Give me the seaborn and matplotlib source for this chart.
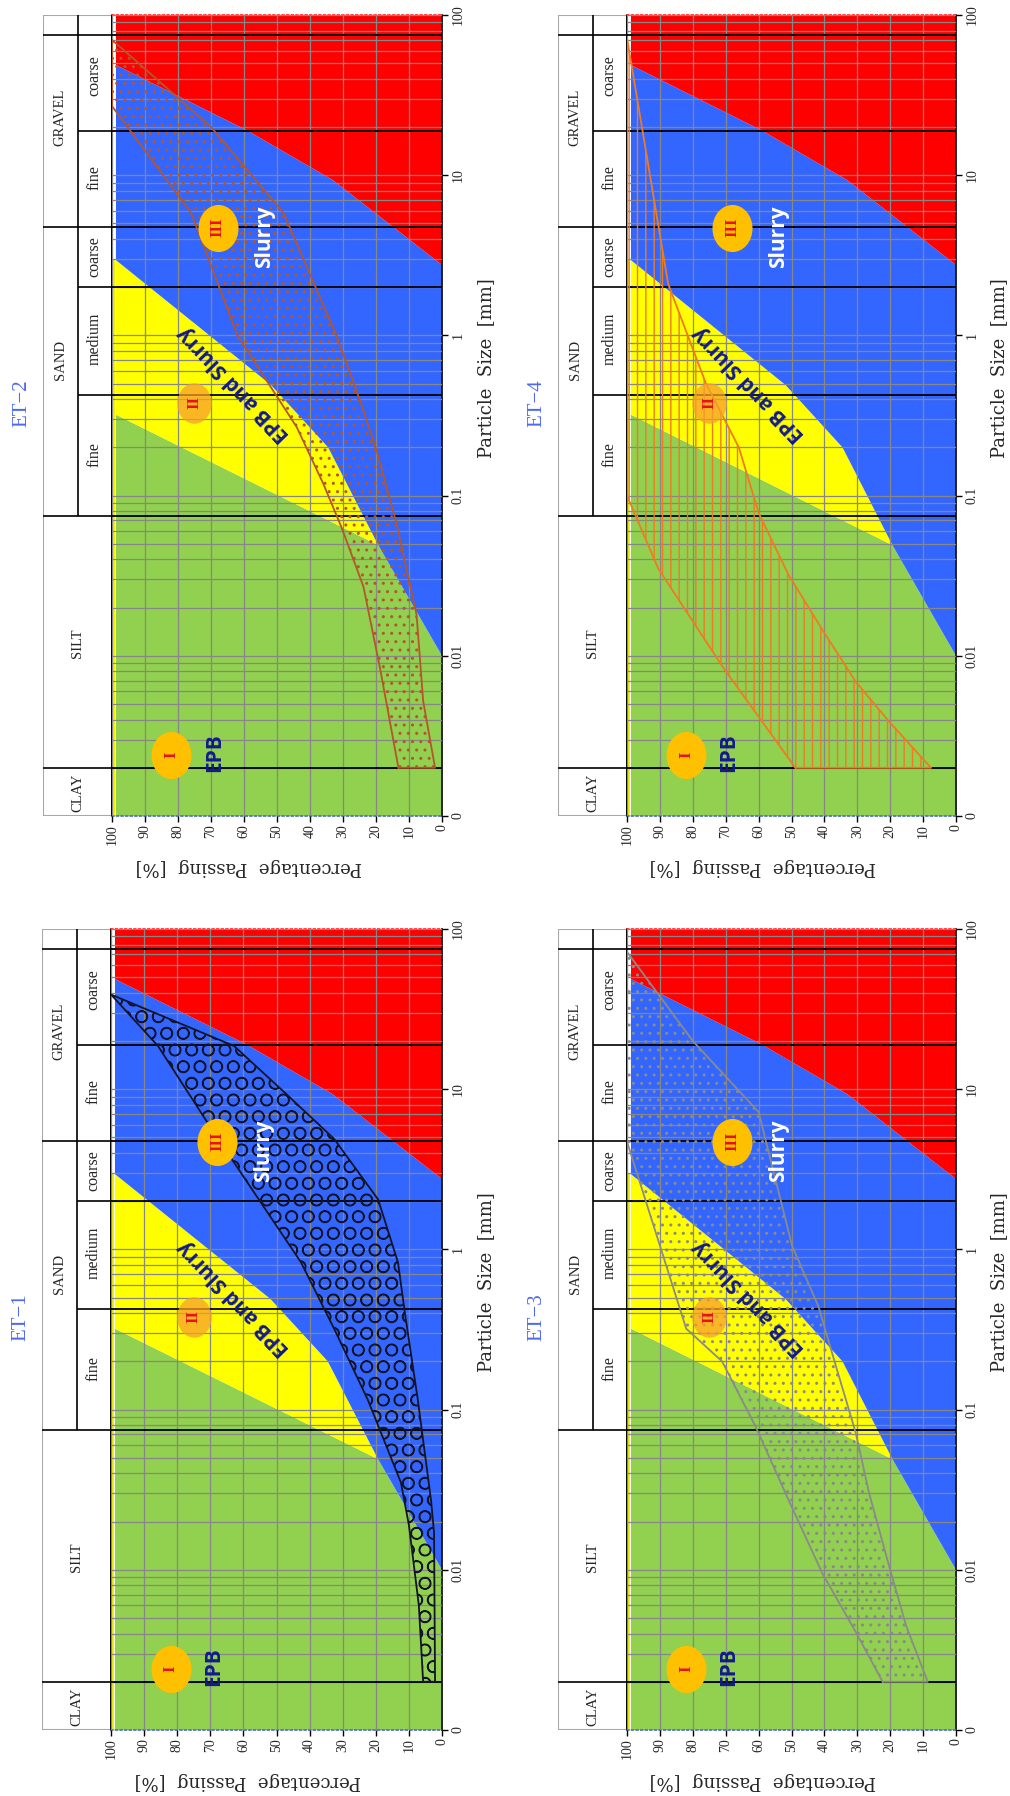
import matplotlib
matplotlib.use('Agg')
import matplotlib.pyplot as plt
import seaborn as sns
from matplotlib.path import Path
from matplotlib.transforms import Affine2D
from matplotlib.ticker import FixedLocator, NullFormatter, LogLocator

sns.set_theme(style='white')
plt.rcParams['font.family'] = ['Liberation Serif', 'DejaVu Serif']
plt.rcParams['hatch.linewidth'] = 1.0

# zone boundaries: percent passing vs particle size [mm]
green_blue_p = [0, 19.3]
green_blue_s = [0.01, 0.049]
green_yellow_p = [19.3, 98.8]
green_yellow_s = [0.049, 0.32]
yellow_blue_p = [19.3, 34.5, 51.8, 98.8]
yellow_blue_s = [0.049, 0.2, 0.49, 2.95]
blue_red_p = [0, 33, 59, 98.8]
blue_red_s = [2.75, 9.3, 19, 48.7]

# soil classification (sizes in mm)
size_min, size_max = 0.001, 100
main_edges = [0.002, 0.075, 4.75, 75]
sub_edges = [0.425, 2.0, 19]
main_names = ['CLAY', 'SILT', 'SAND', 'GRAVEL']
main_pos = [0.0014, 0.012, 0.7, 23]
sub_names = ['fine', 'medium', 'coarse', 'fine', 'coarse']
sub_pos = [0.18, 0.95, 3.1, 9.6, 42]

# zone markers
zone_names = ['I', 'II', 'III']
zone_p = [82, 75, 68]
zone_s = [0.0024, 0.38, 4.7]

# tick labels
size_ticks = [0.001, 0.01, 0.1, 1, 10, 100]
size_labels = ['0', '0.01', '0.1', '1', '10', '100']
pass_ticks = [0, 10, 20, 30, 40, 50, 60, 70, 80, 90, 100]

# grading envelopes of each tunnel section
et1_up_p = [100, 85.8, 69, 42.6, 32.6, 22.4, 12.4, 10, 7, 5.7]
et1_up_s = [39, 18.6, 5.4, 0.83, 0.32, 0.115, 0.035, 0.019, 0.006, 0.002]
et1_lo_p = [100, 62.8, 47.7, 32.6, 19.3, 13.3, 11.2, 7.3, 3.3, 2.4, 2.1]
et1_lo_s = [39, 18.6, 9.6, 4.9, 2.05, 0.83, 0.4, 0.115, 0.027, 0.017, 0.002]

et2_up_p = [100, 76, 62, 44, 36, 30.4, 23.8, 18.8, 13.2]
et2_up_s = [27, 5.8, 1.0, 0.267, 0.119, 0.063, 0.027, 0.0084, 0.002]
et2_lo_p = [100, 70, 48, 32, 24.8, 19.8, 13.7, 7.7, 5.7, 2.1]
et2_lo_s = [70, 20, 5.8, 1.0, 0.39, 0.19, 0.066, 0.018, 0.0052, 0.002]

et3_up_p = [100, 82, 71.1, 61, 50.8, 40.6, 30.5, 22.3]
et3_up_s = [4.7, 0.32, 0.2, 0.079, 0.027, 0.0095, 0.0041, 0.002]
et3_lo_p = [100, 80, 60, 49.8, 41.8, 36.6, 30.5, 26.4, 20.3, 15.2, 8.6]
et3_lo_s = [72, 20, 7.2, 1.05, 0.44, 0.19, 0.072, 0.03, 0.0105, 0.0045, 0.002]

et4_up_p = [48.8, 70.7, 90.5, 100, 100]
et4_up_s = [0.002, 0.0084, 0.035, 0.1, 72]
et4_lo_p = [7.6, 20.4, 30.5, 40.5, 50.9, 60, 66, 76, 87.5, 100]
et4_lo_s = [0.002, 0.0039, 0.0069, 0.0144, 0.032, 0.078, 0.2, 0.5, 2.1, 72]

W, H = 1010, 1796
fig = plt.figure(figsize=(W / 100, H / 100), dpi=100)
fig.patch.set_facecolor('white')

ellipse = Path.unit_circle().transformed(Affine2D().scale(0.85, 1.0))
serif2 = ['DejaVu Serif']
sans = ['Open Sans', 'DejaVu Sans']


def band(up_p, up_s, lo_p, lo_s):
    # closed outline: upper curve then lower curve backwards
    if up_s[0] < up_s[-1]:
        p = list(up_p) + list(lo_p)[::-1] + [up_p[0]]
        s = list(up_s) + list(lo_s)[::-1] + [up_s[0]]
    else:
        p = list(up_p)[::-1] + list(lo_p) + [up_p[-1]]
        s = list(up_s)[::-1] + list(lo_s) + [up_s[-1]]
    return p, s


def draw_panel(name, px, py, pw, ph, up_p, up_s, lo_p, lo_s, color, hatch, lw):
    ax = fig.add_axes([px / W, 1 - (py + ph) / H, pw / W, ph / H])
    hax = fig.add_axes([(px - 69) / W, 1 - (py + ph) / H, 69 / W, ph / H], sharey=ax)
    ax.set_yscale('log')
    ax.set_xlim(100, 0)
    ax.set_ylim(size_min, size_max)

    # zones
    gp = [0] + green_blue_p + green_yellow_p[1:] + [green_yellow_p[-1]]
    gs = [size_min] + green_blue_s + green_yellow_s[1:] + [size_min]
    ax.fill(gp, gs, color='#92d050', lw=0, zorder=1)
    yp = yellow_blue_p + green_yellow_p[::-1]
    ys = yellow_blue_s + green_yellow_s[::-1]
    ax.fill(yp, ys, color='#ffff00', lw=0, zorder=1)
    bp = green_blue_p + yellow_blue_p[1:] + blue_red_p[::-1]
    bs = green_blue_s + yellow_blue_s[1:] + blue_red_s[::-1]
    ax.fill(bp, bs, color='#3366ff', lw=0, zorder=1)
    rp = blue_red_p + [blue_red_p[-1], 0]
    rs = blue_red_s + [size_max, size_max]
    ax.fill(rp, rs, color='#ff0000', lw=0, zorder=1)
    ax.vlines(99.4, size_min, yellow_blue_s[-1], color='#f2f200', lw=1.5, zorder=1)

    # grid and class lines
    ax.set_axisbelow(False)
    ax.yaxis.set_major_locator(FixedLocator(size_ticks))
    ax.yaxis.set_minor_locator(LogLocator(base=10, subs=range(2, 10)))
    ax.yaxis.set_minor_formatter(NullFormatter())
    ax.grid(axis='y', which='both', color='#878787', lw=0.9)
    ax.grid(axis='x', which='major', color='#878787', lw=0.9)
    for e in main_edges + sub_edges:
        ax.axhline(e, color='black', lw=1.3, zorder=3)

    # envelope
    bx, by = band(up_p, up_s, lo_p, lo_s)
    ax.fill(bx, by, facecolor='none', edgecolor=color, hatch=hatch, lw=0, zorder=4)
    sns.lineplot(x=bx, y=by, sort=False, estimator=None, color=color, lw=lw, ax=ax, zorder=4)

    # zone markers and labels
    ax.scatter(zone_p[:1], zone_s[:1], marker=ellipse, s=1150, color='#ffc000', lw=0, zorder=5)
    ax.scatter(zone_p[1:2], zone_s[1:2], marker=ellipse, s=850, color='#f7a030', alpha=0.75, lw=0, zorder=5)
    ax.scatter(zone_p[2:], zone_s[2:], marker=ellipse, s=1150, color='#ffc000', lw=0, zorder=5)
    for n, zp, zs in zip(zone_names, zone_p, zone_s):
        ax.text(zp, zs, n, rotation=90, color='#e8101c', fontsize=12, fontweight='bold',
                ha='center', va='center', zorder=6)
    ax.text(69, 0.0025, 'EPB', rotation=90, color='#121a8c', fontsize=15, fontweight='bold',
            family=sans, ha='center', va='center', zorder=6)
    ax.text(63, 0.5, 'EPB and Slurry', rotation=134, rotation_mode='anchor', color='#121a8c',
            fontsize=15, fontweight='bold', family=sans, ha='center', va='center', zorder=6)
    ax.text(53.8, 4.1, 'Slurry', rotation=90, color='white', fontsize=15, fontweight='bold',
            family=sans, ha='center', va='center', zorder=6)

    # axes and labels
    ax.yaxis.tick_right()
    ax.set_yticklabels(size_labels)
    ax.set_xticks(pass_ticks)
    ax.tick_params(axis='x', which='major', bottom=True, length=4, width=1, color='black',
                   labelsize=10, labelrotation=90, pad=2)
    ax.tick_params(axis='y', which='major', right=True, left=False, length=4, width=1,
                   color='black', labelsize=10, labelrotation=90, pad=3)
    ax.tick_params(axis='y', which='minor', length=0)
    for lab in ax.get_yticklabels():
        lab.set_verticalalignment('center')
    ax.set_xlabel('Percentage  Passing  [%]', rotation=180, fontsize=13, family=serif2)
    ax.xaxis.set_label_coords(0.414, -0.052)
    ax.yaxis.set_label_position('right')
    ax.set_ylabel('Particle  Size  [mm]', rotation=90, fontsize=13, family=serif2)
    ax.yaxis.set_label_coords(1.105, 0.559)
    for side in ['left', 'right']:
        ax.spines[side].set_color('black')
        ax.spines[side].set_linewidth(1.2)
    ax.spines['top'].set_color('#ff3030')
    ax.spines['top'].set_linestyle(':')
    ax.spines['bottom'].set_color('#5070c0')
    ax.spines['bottom'].set_linestyle(':')

    ax.text(-0.273, 0.38, name, transform=ax.get_yaxis_transform(), rotation=90,
            color='#4d68f2', fontsize=15, ha='center', va='center')

    # classification header
    hax.set_xlim(0, 2)
    hax.axis('off')
    hax.vlines(0, size_min, size_max, color='#a8a8a8', lw=1.5)
    hax.hlines([size_min, size_max], 0, 2, color='#a8a8a8', lw=1.5)
    hax.vlines(1, main_edges[1], size_max, color='black', lw=1.2)
    hax.vlines(2, size_min, size_max, color='black', lw=1.2)
    hax.hlines(main_edges, 0, 2, color='black', lw=1.2)
    hax.hlines(sub_edges, 1, 2, color='black', lw=1.2)
    for i, (n, s) in enumerate(zip(main_names, main_pos)):
        hx = 1.0 if i < 2 else 0.5
        hax.text(hx, s, n, rotation=90, fontsize=10.5, ha='center', va='center')
    for n, s in zip(sub_names, sub_pos):
        hax.text(1.5, s, n, rotation=90, fontsize=11.5, ha='center', va='center')
    return ax


draw_panel('ET−2', 112, 15, 330, 801, et2_up_p, et2_up_s, et2_lo_p, et2_lo_s, '#b4562c', '..', 1.3)
draw_panel('ET−4', 627, 15, 329, 801, et4_up_p, et4_up_s, et4_lo_p, et4_lo_s, '#f07a22', '||', 1.3)
draw_panel('ET−1', 111, 929, 331, 801, et1_up_p, et1_up_s, et1_lo_p, et1_lo_s, '#141428', 'O', 1.3)
draw_panel('ET−3', 627, 929, 329, 801, et3_up_p, et3_up_s, et3_lo_p, et3_lo_s, '#8a8a8a', '..', 1.3)

fig.savefig('out.png', dpi=100, facecolor='white')
